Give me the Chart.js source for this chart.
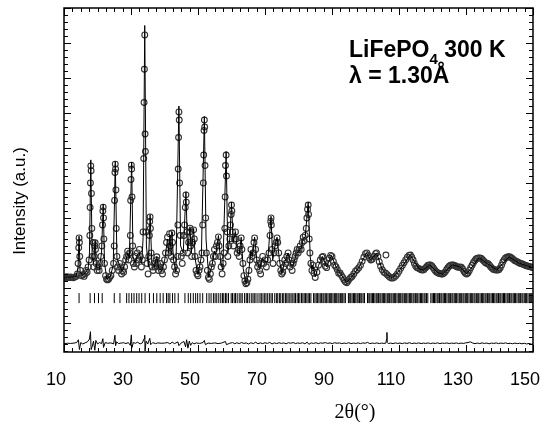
<!DOCTYPE html>
<html>
<head>
<meta charset="utf-8">
<script src="https://cdn.jsdelivr.net/npm/chart.js@4/dist/chart.umd.min.js"></script>
<style>
  html, body { margin: 0; padding: 0; background: #fff; }
  #xrd { display: block; }
</style>
</head>
<body>
<canvas id="xrd" width="543" height="422"></canvas>
<script>
// 2theta (deg), intensity (a.u.)
const observed = [
  [10.0,310],[10.4,300],[10.8,320],[11.2,305],[11.6,295],[12.0,315],[12.4,300],[12.8,290],[13.2,310],[13.6,330],
  [14.0,400],[14.2,700],[14.4,1150],[14.5,1430],[14.6,1300],[14.7,900],[14.9,500],[15.2,350],[15.6,380],[16.0,330],
  [16.3,400],[16.6,500],[16.9,450],[17.2,600],[17.5,800],[17.7,1500],[17.8,2300],[17.9,3000],[18.0,3490],[18.1,3350],
  [18.2,2700],[18.3,1700],[18.5,900],[18.7,1300],[18.9,600],[19.1,900],[19.2,1200],[19.3,1290],[19.4,1100],[19.6,700],
  [19.9,500],[20.2,600],[20.5,500],[20.8,700],[21.0,900],[21.3,1200],[21.5,1800],[21.6,2200],[21.7,2310],[21.8,2000],
  [21.9,1400],[22.1,700],[22.4,350],[22.7,250],[23.0,230],[23.3,250],[23.6,300],[24.0,350],[24.4,500],[24.8,700],
  [25.0,1200],[25.1,2500],[25.2,3300],[25.3,3540],[25.4,3400],[25.5,2800],[25.6,1700],[25.8,900],[26.0,600],[26.3,500],
  [26.6,700],[26.9,600],[27.2,400],[27.5,500],[27.8,450],[28.1,600],[28.4,800],[28.7,900],[29.0,1050],[29.2,950],
  [29.4,800],[29.6,1000],[29.8,1500],[29.9,2500],[30.0,3100],[30.1,3510],[30.2,3400],[30.3,2600],[30.5,1200],[30.7,700],
  [31.0,600],[31.3,900],[31.6,700],[31.9,1000],[32.2,800],[32.5,1100],[32.8,900],[33.1,600],[33.4,800],[33.6,1600],
  [33.8,3700],[33.9,5300],[34.0,6250],[34.1,7230],[34.2,4400],[34.3,3900],[34.5,1600],[34.8,700],[35.1,400],[35.3,900],
  [35.5,1500],[35.6,1900],[35.7,2030],[35.8,1700],[36.0,1000],[36.3,600],[36.6,500],[36.9,700],[37.2,600],[37.5,800],
  [37.7,890],[37.9,700],[38.2,500],[38.5,600],[38.8,700],[39.1,500],[39.4,400],[39.7,600],[40.0,800],[40.3,1000],
  [40.6,1300],[40.9,1450],[41.2,1000],[41.5,1550],[41.7,1200],[42.0,900],[42.2,1570],[42.4,1300],[42.7,800],[43.0,600],
  [43.3,400],[43.6,500],[43.9,900],[44.0,1800],[44.1,3400],[44.2,4300],[44.3,5030],[44.4,4800],[44.5,3000],[44.7,1500],
  [45.0,900],[45.3,700],[45.6,1000],[45.8,1500],[46.0,1800],[46.2,2300],[46.4,2660],[46.5,2450],[46.7,1600],[46.9,1000],
  [47.2,1300],[47.5,1600],[47.6,1710],[47.8,1200],[48.1,900],[48.4,1300],[48.7,1660],[48.9,1400],[49.1,900],[49.4,500],
  [49.7,400],[50.0,350],[50.3,500],[50.6,600],[50.9,800],[51.2,1000],[51.4,1800],[51.6,3000],[51.7,3800],[51.8,4500],
  [51.9,4800],[52.0,4600],[52.1,3500],[52.3,2000],[52.5,1000],[52.8,500],[53.1,300],[53.4,250],[53.7,400],[54.0,600],
  [54.3,700],[54.6,900],[54.9,1100],[55.2,900],[55.5,1200],[55.8,1300],[56.1,1460],[56.3,1200],[56.6,900],[56.9,600],
  [57.2,400],[57.5,700],[57.8,1000],[58.0,1700],[58.1,2600],[58.2,3500],[58.4,3800],[58.5,3200],[58.7,1600],[58.9,900],
  [59.2,1200],[59.5,1400],[59.7,1800],[59.9,2100],[60.0,2370],[60.1,2200],[60.3,1600],[60.6,1200],[60.9,1400],[61.2,1600],
  [61.4,1400],[61.7,1000],[62.0,1100],[62.3,900],[62.6,1200],[62.9,1430],[63.1,1100],[63.4,700],[63.7,350],[64.0,200],
  [64.3,120],[64.6,150],[64.9,250],[65.2,500],[65.5,800],[65.8,1100],[66.1,900],[66.4,1000],[66.7,1300],[66.9,1430],
  [67.2,1100],[67.5,800],[67.8,600],[68.1,700],[68.4,500],[68.7,400],[69.0,700],[69.3,900],[69.6,700],[70.0,800],
  [70.4,600],[70.8,800],[71.2,1000],[71.5,1500],[71.7,1900],[71.8,2000],[71.9,1800],[72.1,1100],[72.4,700],[72.7,1000],
  [73.0,1200],[73.3,1300],[73.6,1430],[73.8,1300],[74.1,1000],[74.4,700],[74.7,500],[75.0,400],[75.3,450],[75.6,600],
  [75.9,800],[76.2,700],[76.5,900],[76.9,1000],[77.2,800],[77.5,600],[77.8,700],[78.1,500],[78.4,700],[78.7,800],
  [79.0,900],[79.3,1000],[79.6,1100],[79.9,1000],[80.2,1100],[80.5,1200],[80.8,1100],[81.1,1300],[81.4,1450],[81.7,1350],
  [82.0,1500],[82.3,1700],[82.5,2000],[82.7,2250],[82.9,2370],[83.0,2100],[83.2,1400],[83.4,1000],[83.7,700],[84.0,500],
  [84.3,650],[84.6,420],[85.0,300],[85.5,450],[86.0,650],[86.5,800],[87.0,880],[87.3,900],[87.7,750],[88.0,620],
  [88.4,580],[88.8,700],[89.2,850],[89.6,930],[90.0,900],[90.4,760],[90.8,650],[91.2,600],[91.6,520],[92.0,420],
  [92.4,430],[92.8,360],[93.2,300],[93.6,230],[94.0,180],[94.4,150],[94.8,200],[95.2,260],[95.6,300],[96.0,330],
  [96.5,400],[97.0,480],[97.5,520],[98.0,580],[98.5,650],[99.0,760],[99.5,880],[100.0,980],[100.4,1000],[100.8,930],
  [101.2,850],[101.6,800],[102.0,820],[102.5,900],[103.0,980],[103.3,1000],[103.7,900],[104.1,750],[104.5,620],[105.0,520],
  [105.5,450],[106.0,420],[106.1,940],[106.5,380],[107.0,330],[107.5,290],[108.0,280],[108.5,300],[109.0,340],[109.5,400],
  [110.0,480],[110.5,560],[111.0,640],[111.5,720],[112.0,800],[112.5,880],[113.0,930],[113.4,940],[113.8,880],[114.2,800],
  [114.6,700],[115.0,620],[115.4,580],[115.8,560],[116.2,540],[116.6,520],[117.0,510],[117.4,520],[117.8,560],[118.2,600],
  [118.6,640],[119.0,660],[119.4,660],[119.8,630],[120.2,580],[120.6,520],[121.0,470],[121.4,440],[121.8,420],[122.2,410],
  [122.6,400],[123.0,400],[123.4,420],[123.8,460],[124.2,520],[124.6,580],[125.0,620],[125.4,650],[125.8,660],[126.2,660],
  [126.6,640],[127.0,620],[127.4,600],[127.8,590],[128.2,600],[128.6,590],[129.0,540],[129.4,470],[129.8,420],[130.2,400],
  [130.6,430],[131.0,500],[131.4,580],[131.8,650],[132.2,720],[132.6,780],[133.0,830],[133.4,850],[133.8,860],[134.2,860],
  [134.6,840],[135.0,800],[135.4,760],[135.8,720],[136.2,700],[136.6,690],[137.0,650],[137.4,600],[137.8,560],[138.2,530],
  [138.6,520],[139.0,510],[139.4,510],[139.8,520],[140.2,570],[140.6,650],[141.0,740],[141.4,810],[141.8,860],[142.2,880],
  [142.6,890],[143.0,890],[143.4,870],[143.8,840],[144.2,810],[144.6,780],[145.0,760],[145.4,740],[145.8,720],[146.2,700],
  [146.6,690],[147.0,680],[147.4,660],[147.8,640],[148.2,630],[148.6,620],[149.0,610],[149.4,600],[149.8,590],[150.0,580]
];

const calculated = [
  [10,305],[13.6,320],[14.2,600],[14.5,1480],[14.8,480],[15.5,360],[16.5,450],[17.2,550],[17.6,1000],[18.0,3660],
  [18.4,900],[18.8,700],[19.3,1350],[19.7,600],[20.5,520],[21.2,1000],[21.7,2400],[22.1,700],[22.8,260],[23.8,320],
  [24.7,650],[25.3,3620],[25.8,850],[26.6,650],[27.4,480],[28.4,750],[29.0,1000],[29.5,850],[30.2,3600],[30.6,900],
  [31.2,700],[31.9,950],[32.5,1000],[33.2,700],[33.6,1400],[34.1,7500],[34.6,1200],[35.2,600],[35.7,2100],[36.2,750],
  [37.0,600],[37.7,900],[38.3,550],[39.2,500],[40.0,750],[40.9,1400],[41.3,1000],[41.6,1500],[42.0,950],[42.2,1600],
  [42.7,800],[43.4,450],[44.3,5200],[44.8,1200],[45.6,1000],[46.4,2750],[46.9,1050],[47.6,1750],[48.0,1000],[48.7,1700],
  [49.2,800],[50.0,380],[51.0,900],[51.9,4900],[52.4,1400],[53.2,300],[54.2,650],[54.9,1050],[55.3,950],[56.1,1500],
  [56.7,800],[57.4,500],[58.4,3900],[58.9,1000],[59.5,1400],[60.0,2450],[60.5,1300],[61.2,1600],[61.8,1000],[62.3,950],
  [62.9,1450],[63.5,550],[64.3,130],[65.0,350],[65.8,1050],[66.2,900],[66.9,1450],[67.6,750],[68.4,550],[69.2,850],
  [69.8,750],[70.8,750],[71.8,2050],[72.3,800],[73.0,1200],[73.6,1450],[74.3,800],[75.0,420],[75.9,750],[76.9,1000],
  [77.7,650],[78.4,650],[79.3,950],[80.0,1050],[80.8,1150],[81.4,1400],[82.0,1450],[82.9,2450],[83.5,900],[84.0,500],
  [84.3,650],[85.0,320],[86.0,650],[87.2,900],[88.4,600],[89.8,930],[91.2,600],[92.8,370],[94.4,160],[96.0,330],
  [98.0,580],[100.3,1000],[101.6,800],[103.3,1000],[105.0,520],[106.5,380],[108.0,280],[110.0,480],[113.3,940],[116.0,550],
  [117.2,510],[119.2,660],[121.5,440],[123.0,400],[125.9,660],[128.2,600],[130.2,400],[133.9,860],[136.5,690],[139.2,510],
  [142.8,890],[146.0,700],[150.0,580]
];

const difference = [
  [10,-1590],[11,-1580],[12,-1585],[13,-1575],[13.8,-1560],[14.3,-1480],[14.6,-1760],[15.0,-1560],[15.6,-1600],[16.3,-1570],
  [17.0,-1540],[17.6,-1460],[17.9,-1250],[18.1,-1760],[18.4,-1680],[18.8,-1520],[19.2,-1780],[19.5,-1500],[20.0,-1600],[20.6,-1560],
  [21.2,-1590],[21.6,-1450],[21.8,-1700],[22.3,-1560],[23.0,-1580],[24.0,-1570],[24.8,-1600],[25.2,-1350],[25.4,-1650],[25.7,-1540],
  [26.3,-1590],[27.0,-1575],[27.8,-1565],[28.5,-1590],[29.2,-1560],[29.8,-1640],[30.1,-1340],[30.3,-1700],[30.7,-1560],[31.3,-1580],
  [32.0,-1550],[32.7,-1600],[33.4,-1570],[33.9,-1450],[34.1,-1350],[34.2,-1800],[34.5,-1520],[35.0,-1600],[35.6,-1440],[35.9,-1620],
  [36.5,-1560],[37.3,-1590],[38.0,-1570],[39.0,-1580],[40.0,-1575],[41.0,-1560],[41.6,-1600],[42.3,-1550],[43.0,-1590],[44.0,-1540],
  [44.3,-1650],[45.0,-1570],[45.8,-1530],[46.3,-1680],[46.6,-1480],[47.0,-1720],[47.4,-1520],[47.8,-1640],[48.3,-1560],[48.8,-1600],
  [49.5,-1570],[50.5,-1585],[51.5,-1560],[51.9,-1500],[52.2,-1620],[53.0,-1575],[54.0,-1585],[55.0,-1570],[56.0,-1590],[57.0,-1575],
  [58.2,-1530],[58.5,-1620],[59.5,-1580],[60.3,-1560],[61.0,-1595],[61.6,-1565],[62.3,-1590],[63.0,-1560],[63.7,-1585],[64.4,-1570],
  [65.1,-1600],[65.8,-1565],[66.5,-1590],[67.2,-1550],[67.9,-1595],[68.6,-1570],[69.3,-1590],[70.0,-1565],[70.7,-1585],[71.4,-1555],
  [72.1,-1600],[72.8,-1570],[73.5,-1590],[74.2,-1565],[74.9,-1585],[75.6,-1570],[76.3,-1595],[77.0,-1565],[77.7,-1580],[78.4,-1560],
  [79.1,-1590],[79.8,-1570],[80.5,-1585],[81.2,-1565],[81.9,-1595],[82.6,-1550],[83.1,-1610],[83.8,-1570],[84.5,-1585],[85.2,-1565],
  [85.9,-1590],[86.6,-1570],[87.3,-1580],[88.0,-1560],[88.7,-1585],[89.4,-1570],[90.1,-1590],[90.8,-1565],[91.5,-1580],[92.2,-1570],
  [92.9,-1590],[93.6,-1575],[94.3,-1585],[95.0,-1565],[95.7,-1590],[96.4,-1575],[97.1,-1585],[97.8,-1570],[98.5,-1590],[99.2,-1570],
  [99.9,-1580],[100.6,-1555],[101.3,-1590],[102.0,-1575],[102.7,-1585],[103.4,-1570],[104.1,-1590],[104.8,-1575],[105.5,-1585],[106.1,-1575],
  [106.3,-1450],[106.4,-1270],[106.5,-1560],[106.8,-1590],[107.5,-1575],[108.2,-1590],[108.9,-1570],[109.6,-1585],[110.3,-1575],[111.0,-1590],
  [111.7,-1570],[112.4,-1585],[113.1,-1565],[113.8,-1590],[114.5,-1575],[115.2,-1585],[115.9,-1570],[116.6,-1590],[117.3,-1575],[118.0,-1585],
  [118.7,-1570],[119.4,-1590],[120.1,-1575],[120.8,-1585],[121.5,-1570],[122.2,-1590],[122.9,-1575],[123.6,-1585],[124.3,-1570],[125.0,-1590],
  [125.7,-1575],[126.4,-1585],[127.1,-1570],[127.8,-1590],[128.5,-1575],[129.2,-1585],[129.9,-1570],[130.6,-1560],[131.3,-1540],[132.0,-1575],
  [132.7,-1590],[133.4,-1575],[134.1,-1590],[134.8,-1570],[135.5,-1585],[136.2,-1575],[136.9,-1595],[137.6,-1575],[138.3,-1585],[139.0,-1570],
  [139.7,-1590],[140.4,-1575],[141.1,-1585],[141.8,-1570],[142.5,-1590],[143.2,-1580],[143.9,-1595],[144.6,-1575],[145.3,-1590],[146.0,-1580],
  [146.7,-1595],[147.4,-1580],[148.1,-1600],[148.8,-1585],[149.5,-1605],[150,-1600]
];

// Bragg reflection positions (2theta)
const braggPositions = [
  14.5, 17.8, 19.1, 20.3, 21.4, 25.0, 26.7, 28.7, 29.4, 30.2, 30.9, 31.7, 32.4, 33.2, 34.2, 35.5, 36.7, 37.7, 38.7, 39.6,
  40.6, 41.1, 41.6, 42.4, 43.1, 44.1, 46.1, 47.1, 47.8, 48.6, 49.3, 49.9, 50.6, 51.4, 52.6, 53.3, 53.9, 54.6, 55.1, 55.6,
  56.2, 56.8, 57.3, 57.7, 58.2, 58.6, 59.1, 59.9, 60.3, 60.8, 61.2, 61.7, 62.3, 62.8, 63.2, 63.9, 64.4, 64.8, 65.3, 65.9,
  66.4, 66.8, 67.3, 67.9, 68.5, 68.9, 69.4, 69.9, 70.3, 70.8, 71.3, 71.8, 72.2, 72.9, 73.4, 73.8, 74.3, 74.7, 75.2, 75.6,
  76.1, 76.5, 76.9, 77.4, 77.8, 78.3, 78.7, 79.1, 79.6, 80.0, 80.4, 80.9, 81.3, 81.7, 82.1, 82.5, 82.9, 83.3, 83.7, 84.5,
  84.9, 85.3, 85.7, 86.1, 86.5, 86.9, 87.3, 87.6, 88.0, 88.4, 88.8, 89.2, 89.5, 89.9, 90.3, 90.7, 91.0, 91.4, 91.8, 92.1,
  92.5, 92.9, 93.2, 93.6, 94.0, 94.9, 95.3, 95.6, 96.0, 96.4, 96.7, 97.1, 97.5, 97.8, 98.2, 98.6, 98.9, 99.3, 99.7, 100.6,
  101.0, 101.3, 101.7, 102.1, 102.4, 102.8, 103.2, 103.5, 103.9, 104.3, 104.6, 105.0, 105.4, 105.7, 106.1, 106.5, 106.8, 107.2, 107.6, 107.9,
  108.3, 108.7, 109.0, 109.4, 109.8, 110.1, 110.5, 110.9, 111.2, 111.6, 112.0, 112.3, 112.7, 113.1, 113.4, 113.8, 114.2, 114.5, 114.9, 115.3,
  115.6, 116.0, 116.4, 116.7, 117.1, 117.5, 117.8, 118.2, 118.6, 119.5, 119.9, 120.3, 120.6, 121.0, 121.4, 121.7, 122.1, 122.5, 122.8, 123.2,
  123.6, 123.9, 124.3, 124.7, 125.0, 125.4, 125.8, 126.1, 126.5, 126.9, 127.2, 127.6, 128.0, 128.3, 128.7, 129.1, 129.4, 129.8, 130.2, 130.5,
  130.9, 131.3, 131.6, 132.0, 132.4, 132.7, 133.1, 133.5, 133.8, 134.2, 134.6, 134.9, 135.3, 135.7, 136.0, 136.4, 136.8, 137.1, 137.5, 137.9,
  138.2, 138.6, 139.0, 139.3, 139.7, 140.1, 140.4, 140.8, 141.2, 141.5, 141.9, 142.3, 142.6, 143.0, 143.4, 143.7, 144.1, 144.5, 144.8, 145.2,
  145.6, 145.9, 146.3, 146.7, 147.0, 147.4, 147.8, 148.1, 148.5, 148.9, 149.2, 149.6, 150.0
];

const xTicks = [10, 30, 50, 70, 90, 110, 130, 150];
const braggLevel = -290;

const sans = '"Liberation Sans", Arial, sans-serif';
const serif = '"Liberation Serif", "Times New Roman", serif';

const toXY = arr => arr.map(p => ({ x: p[0], y: p[1] }));

// frame, inward ticks and labels
const decor = {
  id: 'decor',
  afterDraw(chart) {
    const { ctx, chartArea: a, scales: { x, y } } = chart;
    ctx.save();
    ctx.strokeStyle = '#000';
    ctx.lineWidth = 1;
    ctx.beginPath();
    // x ticks every 2.5 deg, major every 20
    for (let i = 0; i <= 56; i++) {
      const v = 10 + i * 2.5;
      const px = Math.round(x.getPixelForValue(v)) + 0.5;
      const len = i % 8 === 0 ? 7 : 4;
      ctx.moveTo(px, a.bottom); ctx.lineTo(px, a.bottom - len);
      ctx.moveTo(px, a.top); ctx.lineTo(px, a.top + len);
    }
    // y ticks every 200, major every 1000
    for (let v = -1800; v <= 8000; v += 200) {
      const py = Math.round(y.getPixelForValue(v)) + 0.5;
      const len = v % 1000 === 0 ? 7 : 4;
      ctx.moveTo(a.left, py); ctx.lineTo(a.left + len, py);
      ctx.moveTo(a.right, py); ctx.lineTo(a.right - len, py);
    }
    ctx.stroke();
    ctx.lineWidth = 1.5;
    ctx.strokeRect(a.left, a.top, a.right - a.left, a.bottom - a.top);

    ctx.fillStyle = '#000';
    // x title
    ctx.font = '20px ' + serif;
    ctx.textAlign = 'center';
    ctx.textBaseline = 'alphabetic';
    ctx.fillText('2θ(°)', 355, 418);
    // y title
    ctx.save();
    ctx.translate(25, 201);
    ctx.rotate(-Math.PI / 2);
    ctx.font = '17px ' + sans;
    ctx.fillText('Intensity (a.u.)', 0, 0);
    ctx.restore();
    // sample label
    ctx.textAlign = 'left';
    ctx.font = 'bold 23px ' + sans;
    let tx = 349;
    ctx.fillText('LiFePO', tx, 57);
    tx += ctx.measureText('LiFePO').width;
    ctx.font = 'bold 15px ' + sans;
    ctx.fillText('4', tx, 64);
    tx += ctx.measureText('4').width;
    ctx.font = 'bold 23px ' + sans;
    ctx.fillText(' 300 K', tx, 57);
    ctx.fillText('λ = 1.30Å', 349, 83);
    ctx.restore();
  }
};

new Chart(document.getElementById('xrd'), {
  type: 'scatter',
  data: {
    datasets: [
      {
        label: 'calc',
        data: toXY(calculated),
        showLine: true,
        borderColor: '#000',
        borderWidth: 1,
        pointRadius: 0
      },
      {
        label: 'obs',
        data: toXY(observed),
        showLine: false,
        pointStyle: 'circle',
        pointRadius: 2.9,
        borderColor: '#333',
        backgroundColor: 'rgba(255,255,255,0)',
        pointBorderWidth: 1.1
      },
      {
        label: 'bragg',
        data: braggPositions.map(v => ({ x: v, y: braggLevel })),
        showLine: false,
        pointStyle: 'line',
        rotation: 90,
        pointRadius: 5,
        borderColor: '#000',
        pointBorderWidth: 1
      },
      {
        label: 'diff',
        data: toXY(difference),
        showLine: true,
        borderColor: '#000',
        borderWidth: 1,
        pointRadius: 0
      }
    ]
  },
  options: {
    responsive: false,
    animation: false,
    layout: { padding: { top: 8, right: 10, left: 0, bottom: 0 } },
    plugins: { legend: { display: false }, tooltip: { enabled: false } },
    scales: {
      x: {
        type: 'linear',
        min: 10,
        max: 150,
        grid: { display: false },
        border: { display: false },
        afterBuildTicks: s => { s.ticks = xTicks.map(v => ({ value: v })); },
        afterFit: s => { s.height = 70; s.paddingLeft = 0; s.paddingRight = 0; },
        ticks: {
          autoSkip: false,
          maxRotation: 0,
          padding: 9,
          labelOffset: -8,
          color: '#000',
          font: { family: sans, size: 18 }
        }
      },
      y: {
        type: 'linear',
        min: -1830,
        max: 8000,
        grid: { display: false },
        border: { display: false },
        ticks: { display: false },
        afterFit: s => { s.width = 64; s.paddingTop = 0; s.paddingBottom = 0; }
      }
    }
  },
  plugins: [decor]
});
</script>
</body>
</html>
